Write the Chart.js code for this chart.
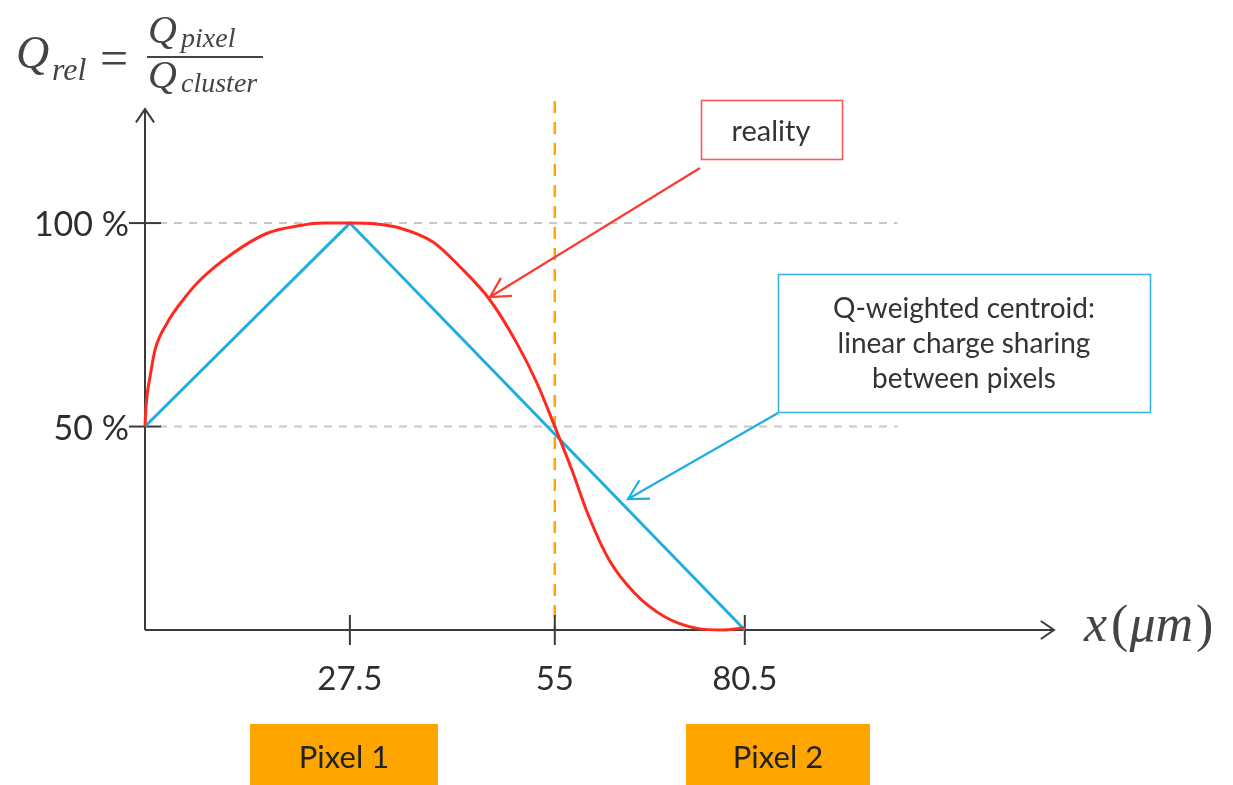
<!DOCTYPE html>
<html>
<head>
<meta charset="utf-8">
<script src="https://cdn.jsdelivr.net/npm/chart.js@4.4.0/dist/chart.umd.min.js"></script>
<style>
  html, body { margin: 0; padding: 0; background: #fff; }
</style>
</head>
<body>
<canvas id="chargeChart" width="1233" height="785"></canvas>
<script>
// relative charge of pixel 1 vs. hit position x (um)
const realityX = [0, 0.1, 0.3, 0.67, 1.34, 2.95, 5.1, 7.4, 11.8, 16.4, 20.8, 24, 27.5, 31, 34.2, 38.7, 42.3, 46.3, 49.9, 52.6, 55, 57.3, 59.4, 62.3, 65.7, 69.8, 74.1, 77.5, 80.5];
const realityY = [50, 54, 58, 62.2, 68.8, 75.4, 81.1, 86, 92.6, 97.5, 99.4, 100, 100, 99.8, 98.8, 95.3, 89.2, 81.1, 70.5, 60.7, 50, 39.3, 28.7, 17.2, 9.1, 3.2, 0.4, 0, 0.5];
const centroidX = [0, 27.5, 80.5];
const centroidY = [50, 100, 0];
const xTicks = [27.5, 55, 80.5];
const xTickLabels = ['27.5', '55', '80.5'];
const yTicks = [50, 100];
const yTickLabels = ['50 %', '100 %'];
const pixelLabels = ['Pixel 1', 'Pixel 2'];
const boundaryX = 55;

const sans = 'Lato, "Open Sans", sans-serif';
const serif = '"Liberation Serif", "DejaVu Serif", serif';

function line(ctx, x1, y1, x2, y2) {
    ctx.beginPath();
    ctx.moveTo(x1, y1);
    ctx.lineTo(x2, y2);
    ctx.stroke();
}

// open arrow head at (x2,y2)
function arrow(ctx, x1, y1, x2, y2, len, ang) {
    line(ctx, x1, y1, x2, y2);
    const a = Math.atan2(y2 - y1, x2 - x1);
    ctx.beginPath();
    ctx.moveTo(x2 - len * Math.cos(a - ang), y2 - len * Math.sin(a - ang));
    ctx.lineTo(x2, y2);
    ctx.lineTo(x2 - len * Math.cos(a + ang), y2 - len * Math.sin(a + ang));
    ctx.stroke();
}

const decor = {
    id: 'decor',
    beforeDraw(chart) {
        const ctx = chart.ctx;
        ctx.save();
        ctx.fillStyle = '#fff';
        ctx.fillRect(0, 0, chart.width, chart.height);
        ctx.restore();
    },
    beforeDatasetsDraw(chart) {
        const { ctx, scales: { x, y } } = chart;
        const x0 = x.getPixelForValue(0), y0 = y.getPixelForValue(0);
        ctx.save();
        // dashed guide lines
        ctx.strokeStyle = '#c8c8c8';
        ctx.lineWidth = 2;
        ctx.setLineDash([8, 7]);
        yTicks.forEach(v => line(ctx, x0 + 14, y.getPixelForValue(v), x.getPixelForValue(101), y.getPixelForValue(v)));
        // pixel boundary
        ctx.strokeStyle = '#ffa500';
        ctx.lineWidth = 2.5;
        ctx.setLineDash([12, 9]);
        line(ctx, x.getPixelForValue(boundaryX), y.getPixelForValue(130), x.getPixelForValue(boundaryX), y0);
        ctx.setLineDash([]);

        // axes
        ctx.strokeStyle = '#3a3a3a';
        ctx.lineWidth = 2;
        arrow(ctx, x0, y0, x.getPixelForValue(122), y0, 16, 0.6);
        arrow(ctx, x0, y0, x0, y.getPixelForValue(128), 16, 0.6);
        xTicks.forEach(v => line(ctx, x.getPixelForValue(v), y0 - 15, x.getPixelForValue(v), y0 + 15));
        yTicks.forEach(v => line(ctx, x0 - 16, y.getPixelForValue(v), x0 + 16, y.getPixelForValue(v)));

        // tick labels
        ctx.fillStyle = '#2e2e2e';
        ctx.font = '33px ' + sans;
        ctx.textAlign = 'center';
        ctx.textBaseline = 'alphabetic';
        xTicks.forEach((v, i) => ctx.fillText(xTickLabels[i], x.getPixelForValue(v), y0 + 60));
        ctx.font = '34px ' + sans;
        ctx.textAlign = 'right';
        ctx.textBaseline = 'middle';
        yTicks.forEach((v, i) => ctx.fillText(yTickLabels[i], x0 - 16, y.getPixelForValue(v) + 2));
        ctx.restore();
    },
    afterDatasetsDraw(chart) {
        const ctx = chart.ctx;
        ctx.save();

        // y axis title: Q_rel = Q_pixel / Q_cluster
        ctx.fillStyle = '#444';
        ctx.textAlign = 'left';
        ctx.textBaseline = 'alphabetic';
        ctx.font = 'italic 46px ' + serif;
        ctx.fillText('Q', 16, 68);
        ctx.font = 'italic 32px ' + serif;
        ctx.fillText('rel', 52, 80);
        ctx.font = '50px ' + serif;
        ctx.fillText('=', 100, 75);
        ctx.font = 'italic 40px ' + serif;
        ctx.fillText('Q', 148, 43);
        ctx.fillText('Q', 148, 88);
        ctx.font = 'italic 28px ' + serif;
        ctx.fillText('pixel', 181, 47);
        ctx.fillText('cluster', 181, 92);
        ctx.fillRect(147, 56, 116, 2);

        // x axis title
        const fs = 52;
        ctx.font = 'italic ' + fs + 'px ' + serif;
        let cx = 1084;
        ctx.fillText('x', cx, 641); cx += ctx.measureText('x').width + 4;
        ctx.font = fs + 'px ' + serif;
        ctx.fillText('(', cx, 641); cx += ctx.measureText('(').width + 1;
        ctx.font = 'italic ' + fs + 'px ' + serif;
        ctx.fillText('\u03bcm', cx, 641); cx += ctx.measureText('\u03bcm').width + 3;
        ctx.font = fs + 'px ' + serif;
        ctx.fillText(')', cx, 641);

        // annotation: reality
        ctx.strokeStyle = '#ff5a5a';
        ctx.lineWidth = 1.6;
        ctx.strokeRect(701.5, 100.5, 141, 59);
        ctx.strokeStyle = '#ff3b30';
        ctx.lineWidth = 2.2;
        arrow(ctx, 700, 168, 490, 297, 22, 0.5);
        ctx.fillStyle = '#333';
        ctx.font = '29px ' + sans;
        ctx.textAlign = 'center';
        ctx.fillText('reality', 771, 141);

        // annotation: centroid
        ctx.strokeStyle = '#3bb3e0';
        ctx.lineWidth = 1.6;
        ctx.strokeRect(778.5, 274.5, 372, 138);
        ctx.strokeStyle = '#1eaee0';
        ctx.lineWidth = 2.2;
        arrow(ctx, 778, 413, 628, 499, 22, 0.5);
        ctx.font = '28px ' + sans;
        ctx.fillText('Q-weighted centroid:', 964, 318);
        ctx.fillText('linear charge sharing', 964, 353);
        ctx.fillText('between pixels', 964, 388);

        // pixel boxes
        const boxes = [[250, 188], [686, 184]];
        boxes.forEach((b, i) => {
            ctx.fillStyle = '#ffa500';
            ctx.fillRect(b[0], 724, b[1], 61);
            ctx.fillStyle = '#222';
            ctx.font = '31px ' + sans;
            ctx.fillText(pixelLabels[i], b[0] + b[1] / 2, 768);
        });
        ctx.restore();
    }
};

const chargeChart = new Chart('chargeChart', {
    type: 'line',
    data: {
        datasets: [{
            label: 'reality',
            data: realityX.map((v, i) => ({ x: v, y: realityY[i] })),
            borderColor: '#ff2a1f',
            borderWidth: 3,
            cubicInterpolationMode: 'monotone',
            pointRadius: 0,
            clip: 10
        }, {
            label: 'Q-weighted centroid',
            data: centroidX.map((v, i) => ({ x: v, y: centroidY[i] })),
            borderColor: '#1eaee0',
            borderWidth: 3,
            tension: 0,
            pointRadius: 0,
            clip: 10
        }]
    },
    options: {
        responsive: false,
        animation: false,
        devicePixelRatio: 1,
        layout: { padding: { left: 145, right: 179, top: 101, bottom: 155 } },
        scales: {
            x: { type: 'linear', min: 0, max: 122, display: false },
            y: { type: 'linear', min: 0, max: 130, display: false }
        },
        plugins: {
            legend: { display: false },
            tooltip: { enabled: false }
        }
    },
    plugins: [decor]
});
</script>
</body>
</html>
